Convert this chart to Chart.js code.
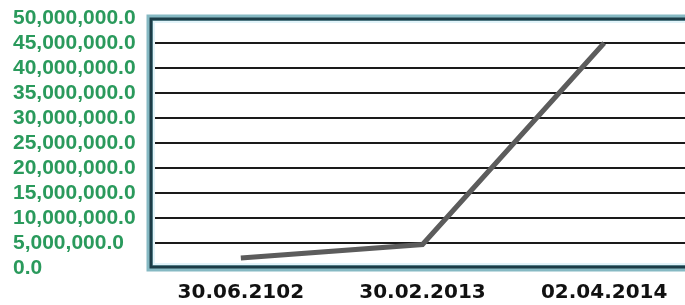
<!DOCTYPE html>
<html>
<head>
<meta charset="utf-8">
<script src="https://cdn.jsdelivr.net/npm/chart.js@4/dist/chart.umd.min.js"></script>
<style>
html,body{margin:0;padding:0;background:#fff;overflow:hidden;width:685px;height:305px;}
canvas{display:block;}
</style>
</head>
<body>
<canvas id="c" width="700" height="305"></canvas>
<script>
const categories = ["30.06.2102", "30.02.2013", "02.04.2014"];
const seriesValues = [2000000, 4700000, 45000000];
const yMin = 0;
const yMax = 50000000;
const yStep = 5000000;

function fmt(v){
  return Number(v).toLocaleString('en-US',{minimumFractionDigits:1,maximumFractionDigits:1});
}

const framePlugin = {
  id:'frame',
  afterDraw(chart){
    const a = chart.chartArea, ctx = chart.ctx;
    ctx.save();
    ctx.strokeStyle = '#86b9c3';
    ctx.lineWidth = 7;
    ctx.strokeRect(a.left, a.top, a.right - a.left, a.bottom - a.top);
    ctx.strokeStyle = '#1c3c47';
    ctx.lineWidth = 3;
    ctx.strokeRect(a.left + 1, a.top + 1, a.right - a.left - 2, a.bottom - a.top - 2);
    ctx.strokeStyle = '#e2f4fa';
    ctx.lineWidth = 2;
    ctx.strokeRect(a.left + 4, a.top + 4, a.right - a.left - 8, a.bottom - a.top - 8);
    ctx.restore();
  }
};

new Chart(document.getElementById('c'), {
  type:'line',
  data:{
    labels: categories,
    datasets:[{
      data: seriesValues,
      borderColor:'#5c5c5c',
      borderWidth:5,
      borderCapStyle:'butt',
      borderJoinStyle:'miter',
      pointRadius:0,
      tension:0,
      fill:false
    }]
  },
  options:{
    responsive:false,
    animation:false,
    layout:{autoPadding:false,padding:{left:13,top:18,right:5,bottom:0}},
    plugins:{legend:{display:false},tooltip:{enabled:false}},
    scales:{
      x:{
        offset:true,
        afterFit(s){ s.height = 37; s.paddingLeft = 0; s.paddingRight = 0; },
        grid:{display:false,drawTicks:false},
        border:{display:false},
        ticks:{
          padding:13,
          color:'#111',
          maxRotation:0,
          font:{family:'"DejaVu Sans"',weight:'bold',size:20}
        }
      },
      y:{
        min:yMin,max:yMax,
        afterFit(s){ s.width = 137; s.paddingTop = 0; s.paddingBottom = 0; },
        grid:{color:'#1a1a1a',lineWidth:2,drawTicks:false},
        border:{display:false},
        ticks:{
          stepSize:yStep,
          autoSkip:false,
          crossAlign:'far',
          padding:13,
          color:'#2a9a5c',
          font:{family:'"Liberation Sans", Arial',weight:'bold',size:21},
          callback:(v)=>fmt(v)
        }
      }
    }
  },
  plugins:[framePlugin]
});
</script>
</body>
</html>
